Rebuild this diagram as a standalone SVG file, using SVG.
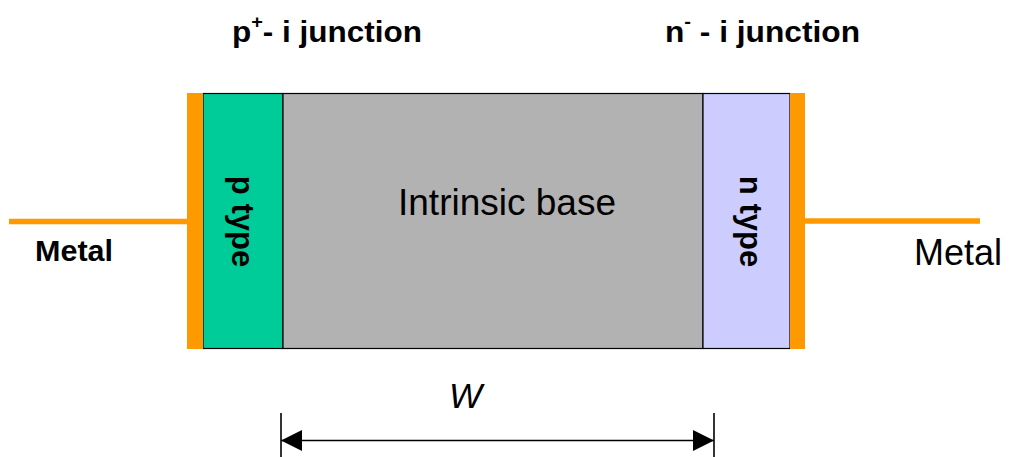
<svg xmlns="http://www.w3.org/2000/svg" width="1010" height="457" viewBox="0 0 1010 457">
  <style>
    .region { stroke: #000; stroke-width: 1.2; }
    .contact { fill: #FF9900; }
    .wire { stroke: #FF9900; stroke-width: 5.5; fill: none; }
    .bold { font-family: "Liberation Sans", Arial, sans-serif; font-weight: bold; fill: #000; }
    .reg { font-family: "Liberation Sans", Arial, sans-serif; fill: #000; }
    .dim { stroke: #000; stroke-width: 1.6; fill: none; }
  </style>
  <defs>
    <marker id="dimHead" viewBox="0 0 21 21" refX="21" refY="10.5" markerWidth="21" markerHeight="21" markerUnits="userSpaceOnUse" orient="auto-start-reverse">
      <path d="M0,0 L21,10.5 L0,21 Z" fill="#000"/>
    </marker>
  </defs>

  <rect width="1010" height="457" fill="#fff"/>

  <!-- device regions -->
  <g id="p-region">
    <rect class="region" x="203" y="93.5" width="80" height="255" fill="#00CC99"/>
    <text class="bold" font-size="31" text-anchor="middle" transform="translate(231.5,221.5) rotate(90)">p type</text>
  </g>
  <g id="intrinsic-base">
    <rect class="region" x="283" y="93.5" width="420" height="255" fill="#B2B2B2"/>
    <text class="reg" x="398" y="215" font-size="37">Intrinsic base</text>
  </g>
  <g id="n-region">
    <rect class="region" x="703" y="93.5" width="87" height="255" fill="#CCCCFF"/>
    <text class="bold" font-size="31" text-anchor="middle" transform="translate(739.5,221.5) rotate(90)">n type</text>
  </g>

  <!-- metal contacts -->
  <g id="metal-left">
    <rect class="contact" x="187" y="93" width="16" height="256"/>
    <text class="bold" x="35" y="261" font-size="29" textLength="78" lengthAdjust="spacingAndGlyphs">Metal</text>
  </g>
  <g id="metal-right">
    <rect class="contact" x="790" y="93" width="15" height="256"/>
    <text class="reg" x="914" y="265" font-size="36">Metal</text>
  </g>

  <!-- junction labels -->
  <g id="label-p-i">
    <text class="bold" x="232" y="42" font-size="30" textLength="190" lengthAdjust="spacingAndGlyphs">p<tspan font-size="19" dy="-14">+</tspan><tspan dy="14">- i junction</tspan></text>
  </g>
  <g id="label-n-i">
    <text class="bold" x="665" y="42" font-size="30" textLength="195" lengthAdjust="spacingAndGlyphs">n<tspan font-size="19" dy="-14">-</tspan><tspan dy="14"> - i junction</tspan></text>
  </g>

  <!-- width label -->
  <g id="label-w">
    <text class="reg" x="449" y="408" font-size="35" font-style="italic">W</text>
  </g>

  <!-- leads and dimension line -->
  <g id="connectors">
    <line class="wire" x1="9" y1="221.5" x2="187" y2="221.5"/>
    <line class="wire" x1="805" y1="221" x2="980" y2="221"/>
    <line class="dim" x1="281" y1="413" x2="281" y2="457"/>
    <line class="dim" x1="714" y1="413" x2="714" y2="457"/>
    <line class="dim" x1="281" y1="440.5" x2="714" y2="440.5" marker-start="url(#dimHead)" marker-end="url(#dimHead)"/>
  </g>
</svg>
